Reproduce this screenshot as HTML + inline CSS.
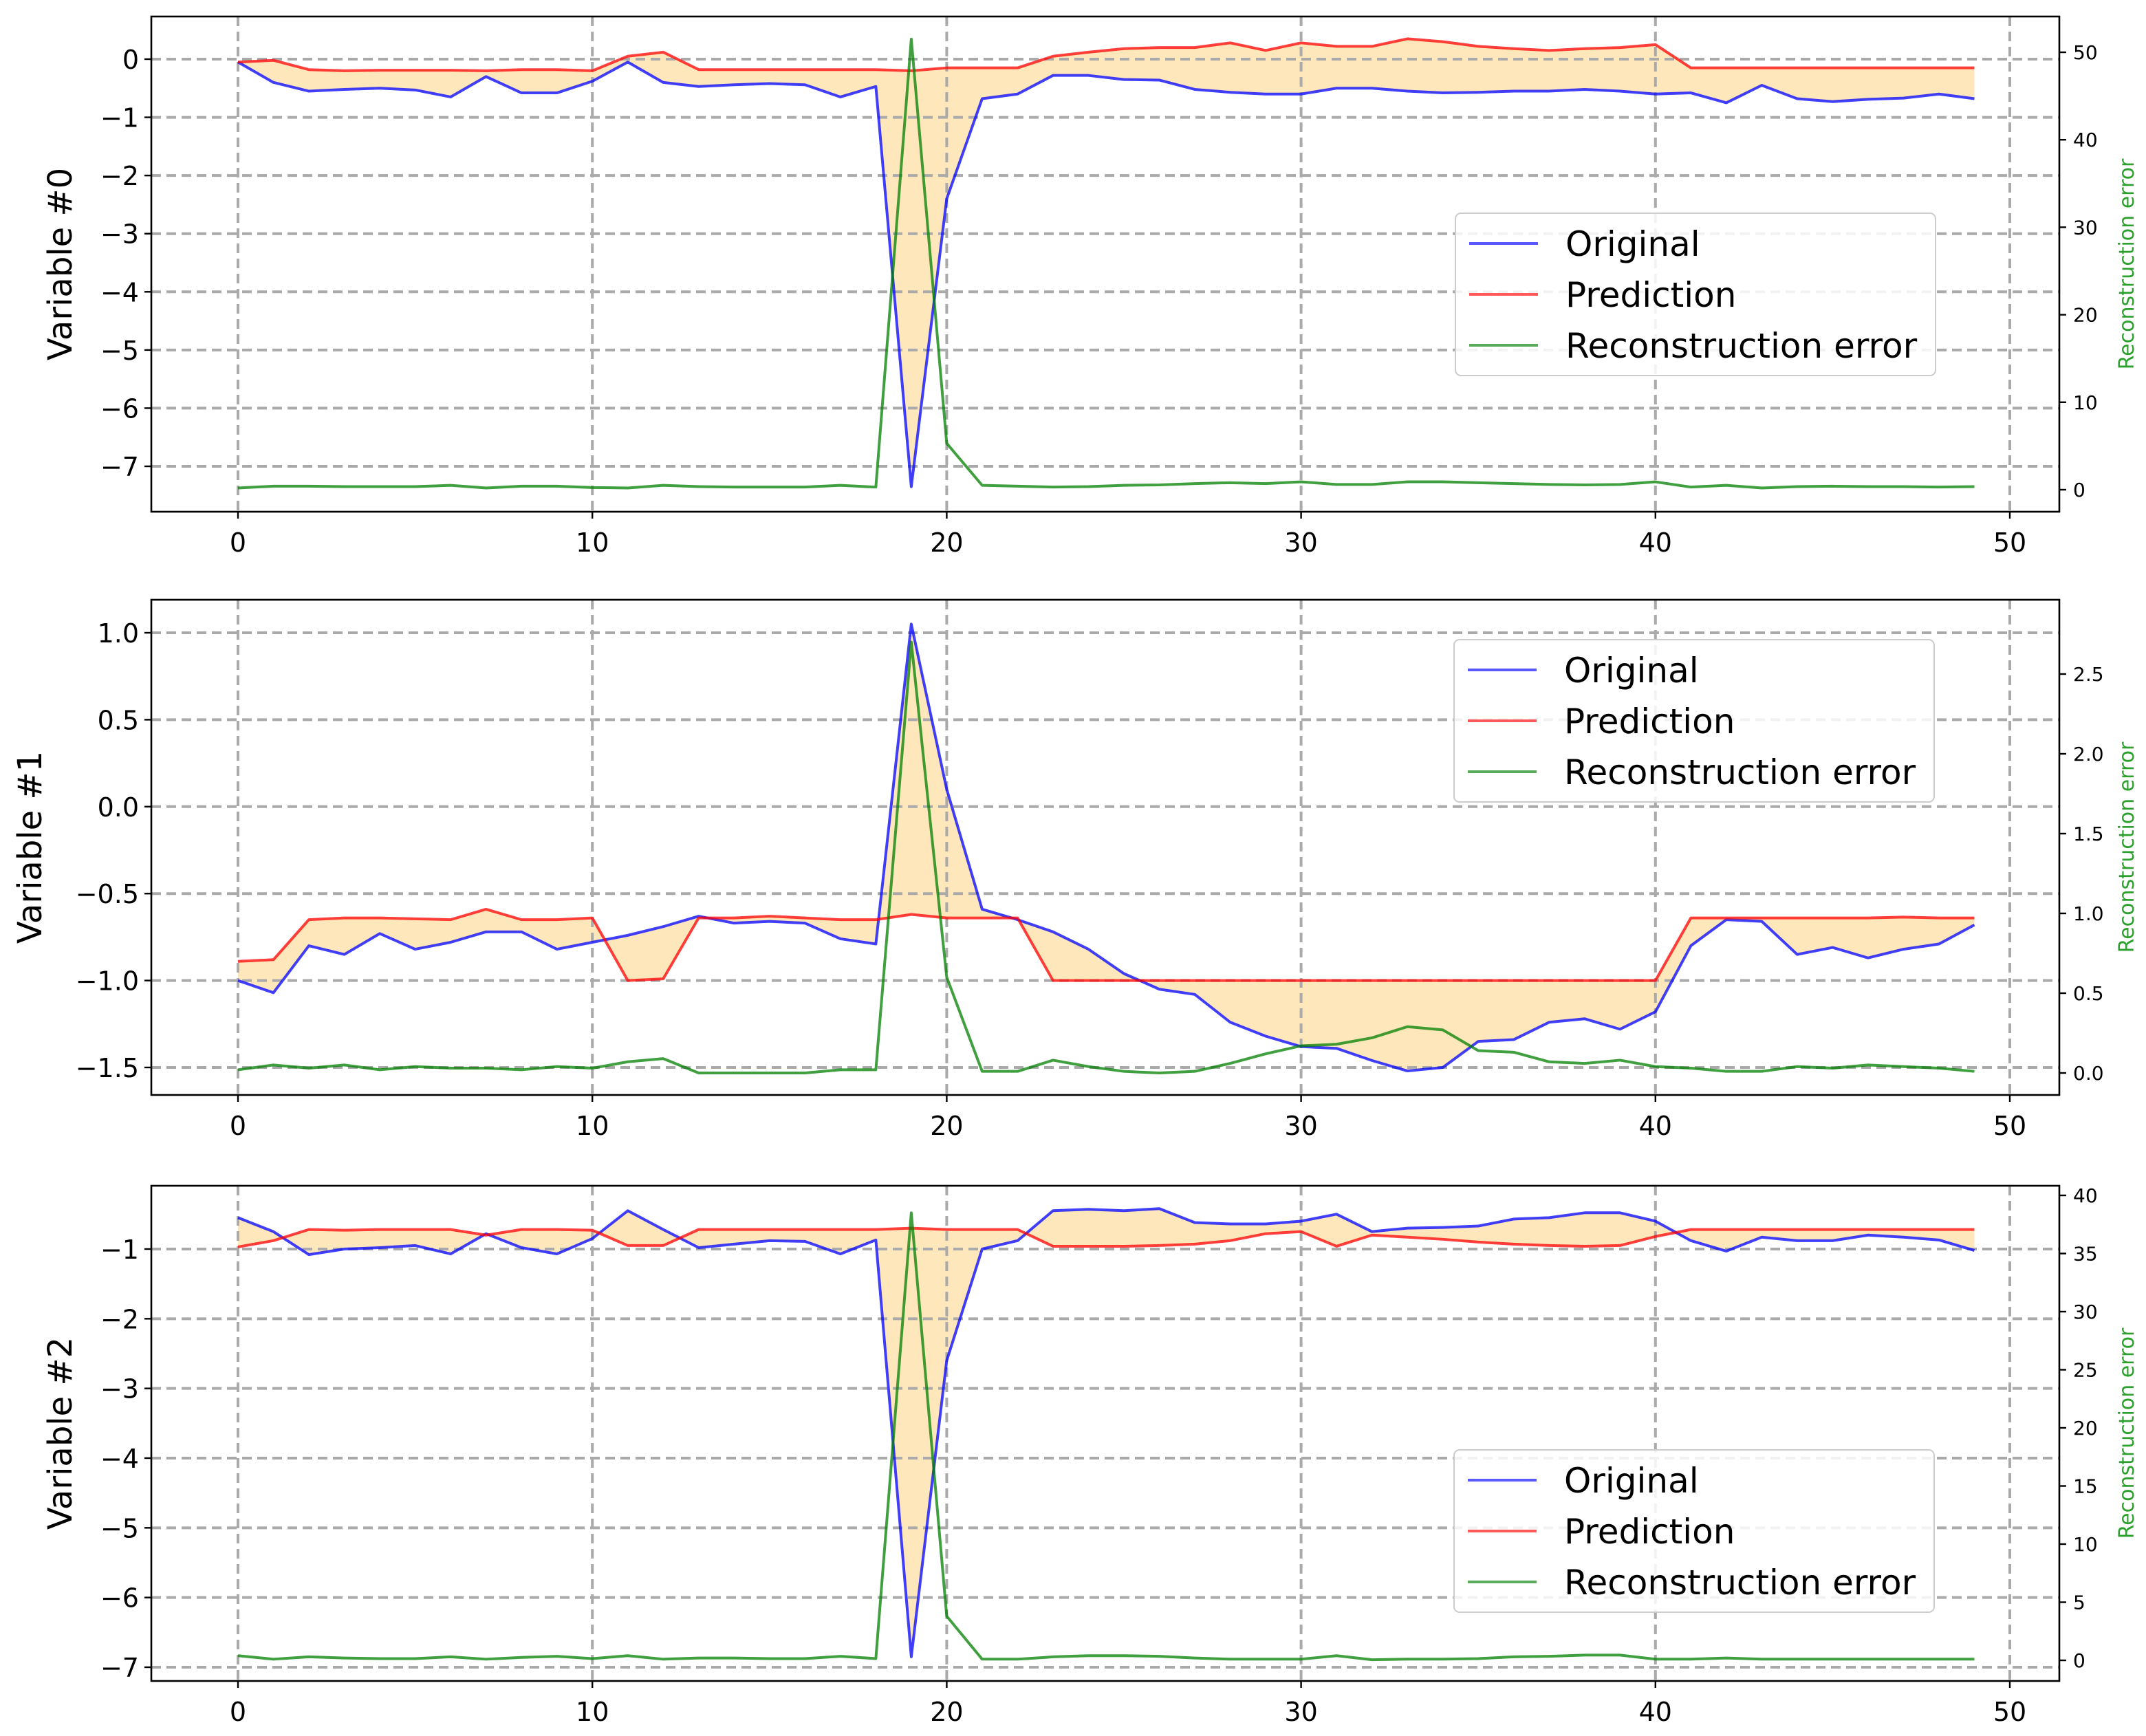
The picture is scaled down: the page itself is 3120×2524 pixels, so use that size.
<!DOCTYPE html>
<html><head><meta charset="utf-8"><style>
html,body{margin:0;padding:0;background:#fff;}
svg{display:block;font-family:"DejaVu Sans","Liberation Sans",sans-serif;}
</style></head><body>
<svg id="chart" width="3120" height="2524" viewBox="0 0 1560 1262" xmlns="http://www.w3.org/2000/svg"></svg>
<script>
const xs = Array.from({length:50},(_,i)=>i);
const orig0 = [-0.05,-0.4,-0.55,-0.52,-0.5,-0.53,-0.65,-0.3,-0.58,-0.58,-0.38,-0.05,-0.4,-0.47,-0.44,-0.42,-0.44,-0.65,-0.47,-7.35,-2.4,-0.68,-0.6,-0.28,-0.28,-0.35,-0.36,-0.52,-0.57,-0.6,-0.6,-0.5,-0.5,-0.55,-0.58,-0.57,-0.55,-0.55,-0.52,-0.55,-0.6,-0.58,-0.75,-0.45,-0.68,-0.73,-0.69,-0.67,-0.6,-0.68];
const pred0 = [-0.05,-0.02,-0.18,-0.2,-0.19,-0.19,-0.19,-0.2,-0.18,-0.18,-0.2,0.05,0.12,-0.18,-0.18,-0.18,-0.18,-0.18,-0.18,-0.2,-0.15,-0.15,-0.15,0.05,0.12,0.18,0.2,0.2,0.28,0.15,0.28,0.22,0.22,0.35,0.3,0.22,0.18,0.15,0.18,0.2,0.25,-0.15,-0.15,-0.15,-0.15,-0.15,-0.15,-0.15,-0.15,-0.15];
const err0 = [0.2,0.4,0.4,0.35,0.35,0.35,0.5,0.2,0.4,0.4,0.25,0.2,0.5,0.35,0.3,0.3,0.3,0.5,0.3,51.5,5.3,0.5,0.4,0.3,0.35,0.5,0.55,0.7,0.8,0.7,0.9,0.6,0.6,0.9,0.9,0.8,0.7,0.6,0.55,0.6,0.9,0.3,0.5,0.2,0.35,0.4,0.35,0.35,0.3,0.35];
const orig1 = [-1.0,-1.07,-0.8,-0.85,-0.73,-0.82,-0.78,-0.72,-0.72,-0.82,-0.78,-0.74,-0.69,-0.63,-0.67,-0.66,-0.67,-0.76,-0.79,1.05,0.1,-0.59,-0.65,-0.72,-0.82,-0.96,-1.05,-1.08,-1.24,-1.32,-1.38,-1.39,-1.46,-1.52,-1.5,-1.35,-1.34,-1.24,-1.22,-1.28,-1.18,-0.8,-0.65,-0.66,-0.85,-0.81,-0.87,-0.82,-0.79,-0.68];
const pred1 = [-0.89,-0.88,-0.65,-0.64,-0.64,-0.645,-0.65,-0.59,-0.65,-0.65,-0.64,-1.0,-0.99,-0.64,-0.64,-0.63,-0.64,-0.65,-0.65,-0.62,-0.64,-0.64,-0.64,-1.0,-1.0,-1.0,-1.0,-1.0,-1.0,-1.0,-1.0,-1.0,-1.0,-1.0,-1.0,-1.0,-1.0,-1.0,-1.0,-1.0,-1.0,-0.64,-0.64,-0.64,-0.64,-0.64,-0.64,-0.635,-0.64,-0.64];
const err1 = [0.02,0.05,0.03,0.05,0.02,0.04,0.03,0.03,0.02,0.04,0.03,0.07,0.09,0.0,0.0,0.0,0.0,0.02,0.02,2.7,0.6,0.01,0.01,0.08,0.04,0.01,0.0,0.01,0.06,0.12,0.17,0.18,0.22,0.29,0.27,0.14,0.13,0.07,0.06,0.08,0.04,0.03,0.01,0.01,0.04,0.03,0.05,0.04,0.03,0.01];
const orig2 = [-0.55,-0.75,-1.08,-1.0,-0.98,-0.95,-1.07,-0.78,-0.98,-1.07,-0.85,-0.45,-0.72,-0.98,-0.93,-0.88,-0.89,-1.07,-0.87,-6.85,-2.6,-1.0,-0.88,-0.45,-0.43,-0.45,-0.42,-0.62,-0.64,-0.64,-0.6,-0.5,-0.75,-0.7,-0.69,-0.67,-0.57,-0.55,-0.48,-0.48,-0.6,-0.88,-1.03,-0.83,-0.88,-0.88,-0.8,-0.83,-0.87,-1.02];
const pred2 = [-0.97,-0.88,-0.72,-0.73,-0.72,-0.72,-0.72,-0.8,-0.72,-0.72,-0.73,-0.95,-0.95,-0.72,-0.72,-0.72,-0.72,-0.72,-0.72,-0.7,-0.72,-0.72,-0.72,-0.96,-0.96,-0.96,-0.95,-0.93,-0.88,-0.78,-0.75,-0.96,-0.8,-0.83,-0.86,-0.9,-0.93,-0.95,-0.96,-0.95,-0.82,-0.72,-0.72,-0.72,-0.72,-0.72,-0.72,-0.72,-0.72,-0.72];
const err2 = [0.4,0.1,0.3,0.2,0.15,0.15,0.3,0.1,0.25,0.35,0.15,0.4,0.1,0.2,0.2,0.15,0.15,0.35,0.15,38.5,3.8,0.1,0.1,0.3,0.4,0.4,0.35,0.2,0.1,0.1,0.1,0.4,0.05,0.1,0.1,0.15,0.3,0.35,0.45,0.45,0.1,0.1,0.2,0.1,0.1,0.1,0.1,0.1,0.1,0.1];
const xTicks = [0,10,20,30,40,50];
const yTicks0 = [0,-1,-2,-3,-4,-5,-6,-7];
const yTicks1 = [1.0,0.5,0.0,-0.5,-1.0,-1.5];
const yTicks2 = [-1,-2,-3,-4,-5,-6,-7];
const rTicks0 = [0,10,20,30,40,50];
const rTicks1 = [0.0,0.5,1.0,1.5,2.0,2.5];
const rTicks2 = [0,5,10,15,20,25,30,35,40];

const NS="http://www.w3.org/2000/svg";
const svg=document.getElementById('chart');
function mk(tag,attrs,parent){const e=document.createElementNS(NS,tag);for(const k in attrs)e.setAttribute(k,attrs[k]);(parent||svg).appendChild(e);return e;}

const panels=[
 {name:'variable-0',top:12,bot:372,orig:orig0,pred:pred0,err:err0,yT:yTicks0,rT:rTicks0,yv:[0,-7],yp:[43,339],rv:[0,50],rp:[356,38],fmt:v=>v===0?'0':'\u2212'+Math.abs(v),rfmt:v=>String(v),label:'Variable #0',leg:[1058,155]},
 {name:'variable-1',top:436,bot:796,orig:orig1,pred:pred1,err:err1,yT:yTicks1,rT:rTicks1,yv:[1,-1.5],yp:[460,776],rv:[0,2.5],rp:[780,490],fmt:v=>(v<0?'\u2212':'')+Math.abs(v).toFixed(1),rfmt:v=>v.toFixed(1),label:'Variable #1',leg:[1057,465]},
 {name:'variable-2',top:862,bot:1222,orig:orig2,pred:pred2,err:err2,yT:yTicks2,rT:rTicks2,yv:[-1,-7],yp:[908,1212],rv:[0,40],rp:[1207,869],fmt:v=>'\u2212'+Math.abs(v),rfmt:v=>String(v),label:'Variable #2',leg:[1057,1054]}
];
const X0=110,X1=1497;
const xScale=v=>173+(v-0)*(1461-173)/50;

panels.forEach((p,pi)=>{
 const g=mk('g',{});
 
 
 const yS=v=>p.yp[0]+(v-p.yv[0])*(p.yp[1]-p.yp[0])/(p.yv[1]-p.yv[0]);
 const rS=v=>p.rp[0]+(v-p.rv[0])*(p.rp[1]-p.rp[0])/(p.rv[1]-p.rv[0]);
 let pts=xs.map(i=>xScale(i)+','+yS(p.orig[i]));
 pts=pts.concat(xs.slice().reverse().map(i=>xScale(i)+','+yS(p.pred[i])));
 const f=mk('polygon',{points:pts.join(' '),fill:'#ffe4b5',opacity:'0.9'},g);
 
 
 xTicks.forEach(t=>{const l=mk('line',{x1:xScale(t),x2:xScale(t),y1:p.top,y2:p.bot,stroke:'#aaaaaa','stroke-width':2,'stroke-dasharray':'7,4'},g);
  
  });
 p.yT.forEach(t=>{const l=mk('line',{x1:X0,x2:X1,y1:yS(t),y2:yS(t),stroke:'#aaaaaa','stroke-width':2,'stroke-dasharray':'7,4'},g);
  
  });
 const line=(arr,sc,col,nm)=>{const l=mk('polyline',{points:xs.map(i=>xScale(i)+','+sc(arr[i])).join(' '),fill:'none',stroke:col,'stroke-width':2,'stroke-opacity':0.75,'stroke-linejoin':'round'},g);
  
  };
 line(p.orig,yS,'#0000ff','original-line');
 line(p.pred,yS,'#ff0000','prediction-line');
 line(p.err,rS,'#008000','reconstruction-error-line');
 const fr=mk('rect',{x:X0,y:p.top,width:X1-X0,height:p.bot-p.top,fill:'none',stroke:'#000','stroke-width':1.3},g);
 
 
 xTicks.forEach(t=>{mk('line',{x1:xScale(t),x2:xScale(t),y1:p.bot,y2:p.bot+5,stroke:'#000','stroke-width':1.2},g);
  const tx=mk('text',{x:xScale(t),y:p.bot+29,'font-size':19,'text-anchor':'middle',fill:'#000'},g);tx.textContent=t;
  
  });
 p.yT.forEach(t=>{mk('line',{x1:X0-5,x2:X0,y1:yS(t),y2:yS(t),stroke:'#000','stroke-width':1.2},g);
  const tx=mk('text',{x:X0-9,y:yS(t)+7,'font-size':19,'text-anchor':'end',fill:'#000'},g);tx.textContent=p.fmt(t);
  
  });
 p.rT.forEach(t=>{mk('line',{x1:X1,x2:X1+5,y1:rS(t),y2:rS(t),stroke:'#000','stroke-width':1.2},g);
  const tx=mk('text',{x:X1+10,y:rS(t)+5,'font-size':14,fill:'#000'},g);tx.textContent=p.rfmt(t);
  
  });
 const cy=(p.top+p.bot)/2;
 const yl=mk('text',{x:0,y:0,'font-size':24,'text-anchor':'middle',fill:'#000',transform:`translate(${pi===1?30:52},${cy}) rotate(-90)`},g);yl.textContent=p.label;
 
 
 const rl=mk('text',{x:0,y:0,'font-size':15,'text-anchor':'middle',fill:'#2ca02c',transform:`translate(1551,${cy}) rotate(-90)`},g);rl.textContent='Reconstruction error';
 
 
 const [lx,ly]=p.leg;
 const lg=mk('g',{},g);
 
 
 mk('rect',{x:lx,y:ly,width:349,height:118,rx:4,fill:'#fff','fill-opacity':0.85,stroke:'#cccccc','stroke-width':1},lg);
 [['Original','#0000ff'],['Prediction','#ff0000'],['Reconstruction error','#008000']].forEach((e,i)=>{
  const yy=ly+22+i*37;
  const el=mk('g',{},lg);
  
  
  mk('line',{x1:lx+10,x2:lx+60,y1:yy,y2:yy,stroke:e[1],'stroke-width':2,'stroke-opacity':0.65},el);
  const t=mk('text',{x:lx+80,y:yy+9,'font-size':25,fill:'#000'},el);t.textContent=e[0];
 });
});
</script>
</body></html>
